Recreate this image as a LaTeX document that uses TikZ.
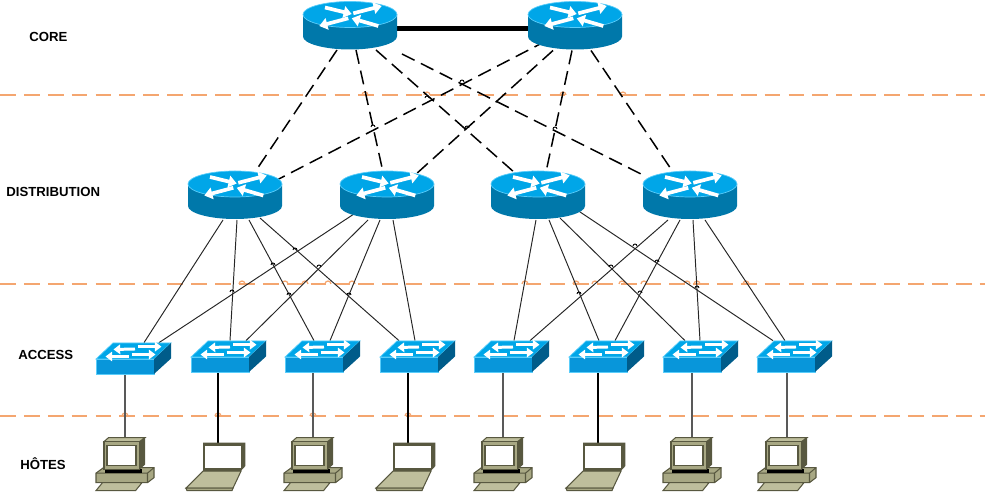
\documentclass[tikz,border=0pt]{standalone}
\usepackage{fontspec}
\setmainfont{Liberation Sans}
\usetikzlibrary{calc,arrows.meta}
\definecolor{netTop}{RGB}{0, 166, 232}
\definecolor{netSide}{RGB}{0, 120, 170}
\definecolor{netFront}{RGB}{8, 150, 218}
\definecolor{netDark}{RGB}{0, 92, 138}
\definecolor{netEdge}{RGB}{90, 205, 250}
\definecolor{hostBody}{RGB}{168, 168, 132}
\definecolor{hostLight}{RGB}{190, 190, 156}
\definecolor{hostDark}{RGB}{88, 88, 64}
\definecolor{layerOrange}{RGB}{244, 166, 112}
\tikzset{
  routerbox/.style={minimum width=1.84cm, minimum height=0.96cm, inner sep=0pt},
  switchbox/.style={minimum width=1.5cm, minimum height=0.62cm, inner sep=0pt},
  hostbox/.style={minimum width=1.16cm, inner sep=0pt},
  layerlabel/.style={anchor=west, inner sep=0pt, font=\fontsize{7.5pt}{9pt}\selectfont\bfseries},
  layerline/.style={layerOrange, line width=0.85pt, dash pattern=on 9pt off 4.6pt},
  layerhop/.style={layerOrange, line width=0.7pt},
  corelink/.style={black, line width=0.85pt, dash pattern=on 8pt off 4pt},
  uplink/.style={black!85, line width=0.55pt},
  hophook/.style={black, line width=0.5pt},
  whitearrow/.style={white, line width=2.1pt, -{Triangle[length=4.6pt, width=6.6pt]}},
  smallarrow/.style={white, line width=1.7pt, -{Triangle[length=3.8pt, width=5.4pt]}},
  hostline/.style={draw=hostDark, line width=0.6pt}
}
% icons are drawn around the node that carries the name
\newcommand{\routericon}[1]{
  \begin{scope}[shift={(#1)}]
    \fill[netSide] (-47,-11) -- (-47,11) .. controls (-47,18) and (-26,24) .. (0,24) .. controls (26,24) and (47,18) .. (47,11) -- (47,-11) -- cycle;
    \fill[netTop, draw=netEdge, line width=0.4pt] (0,-11) ellipse [x radius=47, y radius=13];
    \draw[whitearrow] (-25,-18) -- (1.7,-11.5);
    \draw[whitearrow] (3.3,-12.2) -- (31.7,-19.5);
    \draw[whitearrow] (-1.7,-7.2) -- (-30.7,0.5);
    \draw[whitearrow] (28.3,0.5) -- (1.7,-7.2);
  \end{scope}}
\newcommand{\switchicon}[1]{
  \begin{scope}[shift={(#1)}]
    \fill[netTop, draw=netEdge, line width=0.4pt] (-37.5,0.5) -- (-20.5,-15.5) -- (37.5,-15.5) -- (20.5,0.5) -- cycle;
    \fill[netFront, draw=netEdge, line width=0.4pt] (-37.5,0.5) rectangle (20.5,15.5);
    \fill[netDark] (20.5,0.5) -- (37.5,-15.5) -- (37.5,0) -- (20.5,15.5) -- cycle;
    \draw[smallarrow] (1.5,-9.5) -- (-20,-9);
    \draw[smallarrow] (4.8,-11.8) -- (28,-11.8);
    \draw[smallarrow] (-5,-2) -- (-28,-2);
    \draw[smallarrow] (-2,-4) -- (22,-4);
  \end{scope}}
\newcommand{\desktopicon}[1]{
  \begin{scope}[shift={(#1.north)}, xshift=-0.01cm]
    \fill[hostBody, hostline] (-28.5,35.5) -- (-21,30) -- (29.5,30) -- (29.5,40) -- (23,45) -- (-28.5,45) -- cycle;
    \draw[hostline] (-28.5,35.5) -- (23,35.5) -- (29.5,30) (23,35.5) -- (23,45);
    \fill[hostLight, hostline] (-28.5,53) -- (-22,45) -- (17.5,45) -- (11,53) -- cycle;
    \fill[black] (-20,31) rectangle (17,35);
    \fill[hostLight, hostline] (-20.5,4) -- (-16,0) -- (20.5,0) -- (15,4) -- cycle;
    \fill[hostDark] (15,4) -- (20.5,0) -- (20.5,27) -- (15,32) -- cycle;
    \fill[hostBody, hostline] (-20.5,4) rectangle (15,32);
    \fill[white, hostline] (-17.5,8) rectangle (11.5,28);
  \end{scope}}
\newcommand{\laptopicon}[1]{
  \begin{scope}[shift={(#1.north)}]
    \fill[hostLight, hostline] (-15,28.5) -- (23,28.5) -- (15,45.5) -- (-32,45.5) -- cycle;
    \fill[hostBody, hostline] (-32,45.5) -- (15,45.5) -- (14,48) -- (-31,48) -- cycle;
    \fill[hostDark] (-15,0) -- (27.3,0) -- (27.3,23.5) -- (22.7,28.5) -- (-15,28.5) -- cycle;
    \fill[white] (-12.7,3.5) rectangle (23.3,25);
  \end{scope}}
\begin{document}
\begin{tikzpicture}[x=0.02cm, y=-0.02cm]
  \useasboundingbox (0,0) rectangle (985,492);
  % Layer separators
  \foreach \n/\y in {a/95,b/284,c/416} {
    \coordinate (left\n) at (0,\y);
    \coordinate (right\n) at (985,\y);
    \draw[layerline] (left\n) -- (right\n);
  }
  \foreach \x/\y in {365/95,427/95,563/95,623/95,242/284,285/284,305/284,328/284,352/284,525/284,576/284,595/284,622/284,644/284,687/284,697/284,746/284,125/416,218/416,313/416,408/416}
    \draw[layerhop] (\x-3,\y) arc [start angle=180, end angle=360, x radius=3, y radius=3];

  % Labels
  \node[layerlabel] (corelabel) at (29,37) {CORE};
  \node[layerlabel] (distlabel) at (6,192) {DISTRIBUTION};
  \node[layerlabel] (accesslabel) at (18,355) {ACCESS};
  \node[layerlabel] (hostlabel) at (20,464) {HÔTES};

  % Routers
  \node[routerbox] (c1) at (350,25.5) {};
  \node[routerbox] (c2) at (575,25.5) {};
  \node[routerbox] (r1) at (235,195) {};
  \node[routerbox] (r2) at (387,195) {};
  \node[routerbox] (r3) at (538,195) {};
  \node[routerbox] (r4) at (690,195) {};

  % Switches
  \node[switchbox] (s1) at (133.5,358.5) {};
  \node[switchbox] (s2) at (228.5,356.5) {};
  \node[switchbox] (s3) at (322.5,356.5) {};
  \node[switchbox] (s4) at (417.5,356.5) {};
  \node[switchbox] (s5) at (511.5,356.5) {};
  \node[switchbox] (s6) at (606.5,356.5) {};
  \node[switchbox] (s7) at (700.5,356.5) {};
  \node[switchbox] (s8) at (794.5,356.5) {};

  % Hosts
  \node[hostbox, minimum height=1.06cm] (h1) at (125,464.5) {};
  \node[hostbox, minimum height=0.96cm] (h2) at (218,467) {};
  \node[hostbox, minimum height=1.06cm] (h3) at (313,464.5) {};
  \node[hostbox, minimum height=0.96cm] (h4) at (408,467) {};
  \node[hostbox, minimum height=1.06cm] (h5) at (503,464.5) {};
  \node[hostbox, minimum height=0.96cm] (h6) at (598,467) {};
  \node[hostbox, minimum height=1.06cm] (h7) at (692,464.5) {};
  \node[hostbox, minimum height=1.06cm] (h8) at (787,464.5) {};

  % Core links
  \draw[black, line width=2.4pt] ($(c1.east)+(0,3)$) -- ($(c2.west)+(0,3)$);
  \foreach \a/\ax/\ay/\b/\bx/\by in {c1/-13/24.5/r1/20/-23, c1/6/24.5/r2/-4/-23, c1/26/24.5/r3/-23/-22, c1/52/28.5/r4/-45/-19,
    c2/-28/15/r1/38/-13, c2/-22/25/r2/28/-20, c2/-3/25/r3/8/-23, c2/16/25/r4/-17/-23}
    \draw[corelink] ($(\a)+(\ax,\ay)$) -- ($(\b)+(\bx,\by)$);

  % Distribution to access
  \foreach \a/\ax/\ay/\b/\bx in {r1/-12/25/s1/10.5, r1/2/25/s2/1.5, r1/14/25/s3/-8.5, r1/25/23/s4/-18.5,
    r2/-30/17/s1/25.5, r2/-19/25/s2/17.5, r2/-7/25/s3/7.5, r2/6/25/s4/-2.5,
    r3/-2/25/s5/2.5, r3/11/25/s6/-7.5, r3/22/23/s7/-15.5, r3/42/17/s8/-21.5,
    r4/-22/25/s5/18.5, r4/-10/25/s6/8.5, r4/3/25/s7/-0.5, r4/15/25/s8/-9.5}
    \draw[uplink] ($(\a)+(\ax,\ay)$) -- ($(\b.north)+(\bx,0)$);

  % Line jumps
  \foreach \x/\y in {295/250,273/265,319/267,232/292,289/295,349/295,635/246,657/262,611/267,697/288,579/294,640/293,427/98,373/127,462/82,467/128,555/129}
    \draw[hophook] (\x-2,\y) arc [start angle=180, end angle=360, x radius=2, y radius=2];

  % Access to hosts
  \foreach \s/\h/\c in {s1/h1/black!65, s2/h2/black, s3/h3/black!65, s4/h4/black, s5/h5/black!65, s6/h6/black, s7/h7/black!65, s8/h8/black!65}
    \draw[\c, line width=0.7pt] (\h.north |- \s.south) -- (\h.north);

  % Icons on top of the links
  \foreach \n in {c1,c2,r1,r2,r3,r4} {\routericon{\n}}
  \foreach \n in {s1,s2,s3,s4,s5,s6,s7,s8} {\switchicon{\n}}
  \foreach \n in {h1,h3,h5,h7,h8} {\desktopicon{\n}}
  \foreach \n in {h2,h4,h6} {\laptopicon{\n}}
\end{tikzpicture}
\end{document}
